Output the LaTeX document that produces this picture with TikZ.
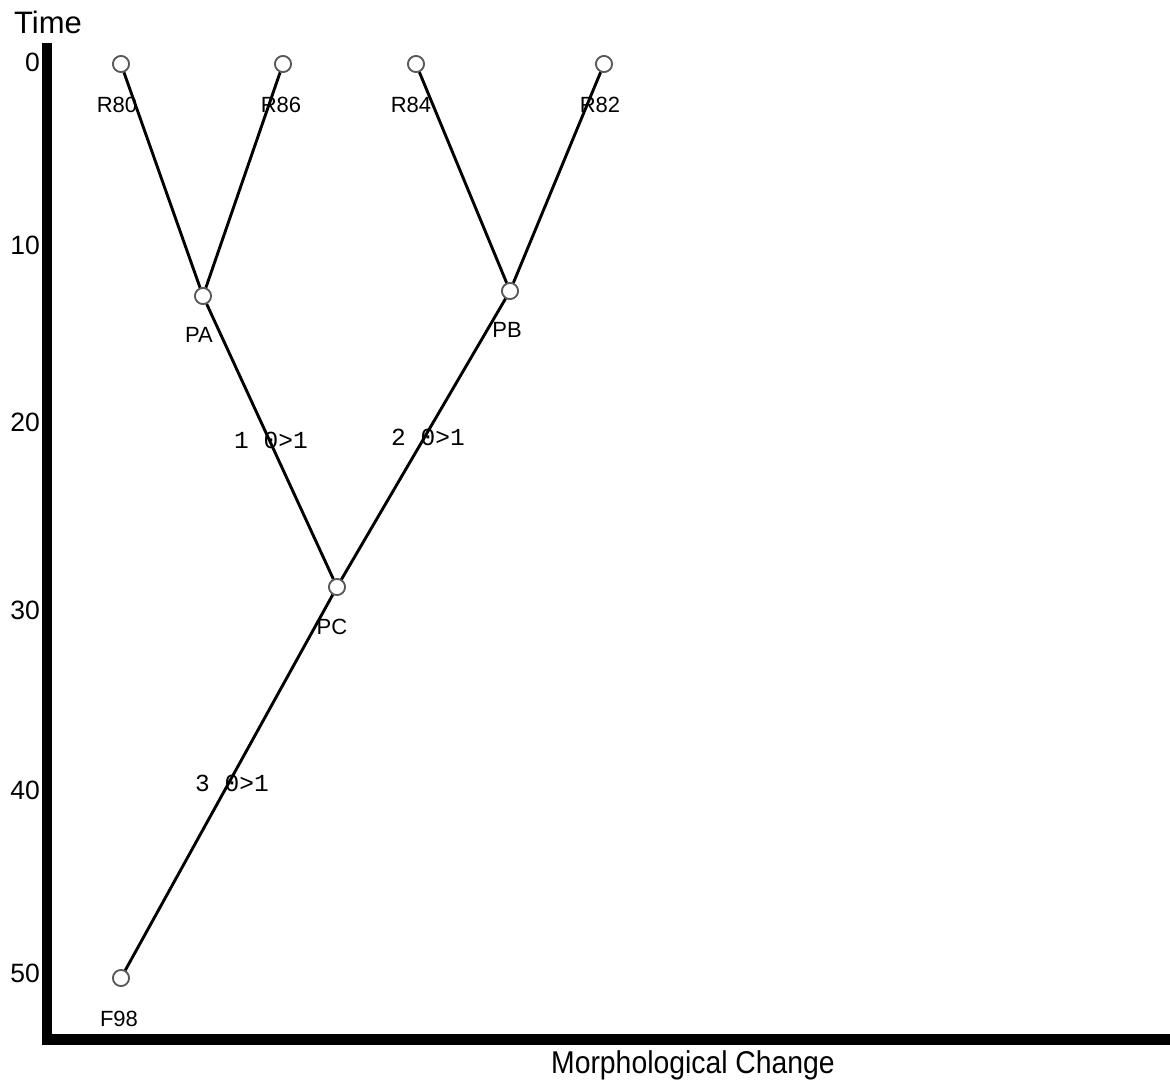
\documentclass[tikz,border=0pt]{standalone}
\usepackage{fontspec}
\setmainfont{Liberation Sans}
\newfontfamily\monofnt{Liberation Mono}
\begin{document}
\begin{tikzpicture}[x=1pt,y=-1pt,
  taxon/.style={circle,draw=black!65,line width=1.7pt,fill=white,minimum size=16pt,inner sep=0pt},
  branch/.style={line width=2.9pt,black},
  lab/.style={font=\fontsize{22}{24}\selectfont,inner sep=0pt},
  tick/.style={font=\fontsize{26.5}{28}\selectfont,inner sep=0pt,anchor=east},
  chg/.style={font=\monofnt\fontsize{24.5}{26}\selectfont,inner sep=0pt}]
\useasboundingbox (0,0) rectangle (1170,1085);
% axes
\fill[black] (42,43) rectangle (52,1045);
\fill[black] (42,1034) rectangle (1170,1045);
\node[font=\fontsize{31}{33}\selectfont,inner sep=0pt] (time) at (48,22) {Time};
\node[font=\fontsize{31.5}{33}\selectfont,inner sep=0pt] (morph) at (693,1065) {\scalebox{0.9}[1]{Morphological Change}};
\node[tick] (t0) at (40,62) {0};
\node[tick] (t10) at (40,245) {10};
\node[tick] (t20) at (40,422) {20};
\node[tick] (t30) at (40,610) {30};
\node[tick] (t40) at (40,790) {40};
\node[tick] (t50) at (40,973) {50};
% nodes
\node[taxon] (R80) at (121,64) {};
\node[taxon] (R86) at (283,64) {};
\node[taxon] (R84) at (416,64) {};
\node[taxon] (R82) at (604,64) {};
\node[taxon] (PA) at (203,296) {};
\node[taxon] (PB) at (510,291) {};
\node[taxon] (PC) at (337,587) {};
\node[taxon] (F98) at (121,978) {};
% branches
\draw[branch] (R80) -- (PA);
\draw[branch] (R86) -- (PA);
\draw[branch] (R84) -- (PB);
\draw[branch] (R82) -- (PB);
\draw[branch] (PA) -- (PC);
\draw[branch] (PB) -- (PC);
\draw[branch] (PC) -- (F98);
% redraw nodes over lines
\foreach \n in {R80,R86,R84,R82,PA,PB,PC,F98}
  \node[taxon] at (\n.center) {};
% labels
\node[lab] (lR80) at (117,105) {R80};
\node[lab] (lR86) at (281,105) {R86};
\node[lab] (lR84) at (411,105) {R84};
\node[lab] (lR82) at (600,105) {R82};
\node[lab] (lPA) at (199,335) {PA};
\node[lab] (lPB) at (507,330) {PB};
\node[lab] (lPC) at (332,627) {PC};
\node[lab] (lF98) at (119,1019) {F98};
\node[chg] (c1) at (271,440) {1 0>1};
\node[chg] (c2) at (428,437) {2 0>1};
\node[chg] (c3) at (232,783) {3 0>1};
\end{tikzpicture}
\end{document}
